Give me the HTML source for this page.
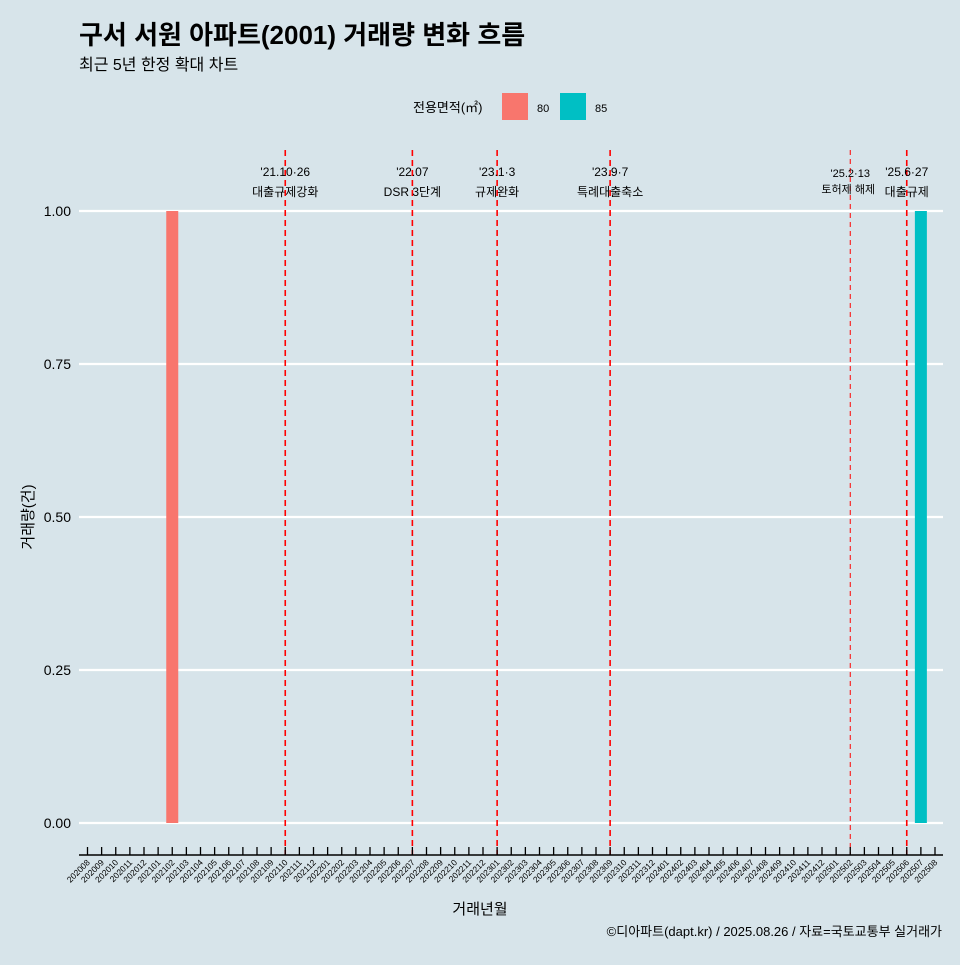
<!DOCTYPE html>
<html><head><meta charset="utf-8"><style>
body{margin:0;background:#d7e4ea;}
svg text{font-family:"Liberation Sans","Noto Sans CJK KR",sans-serif;}
</style></head><body>
<svg width="960" height="960" xmlns="http://www.w3.org/2000/svg">
<rect width="960" height="960" fill="#d7e4ea"/>
<text x="79" y="44" font-size="26" font-weight="bold" fill="#000">구서 서원 아파트(2001) 거래량 변화 흐름</text>
<text x="79" y="70" font-size="16" fill="#000">최근 5년 한정 확대 차트</text>
<g>
<text x="413" y="112" font-size="13">전용면적(㎡)</text>
<rect x="502" y="93" width="26" height="27" fill="#f8766d"/>
<text x="537" y="112" font-size="11">80</text>
<rect x="560" y="93" width="26" height="27" fill="#00bfc4"/>
<text x="595" y="112" font-size="11">85</text>
</g>
<g id="grid"></g><g id="bars"></g><g id="vlines"></g><g id="xaxis"></g><g id="yaxis"></g>
<text x="480" y="914" font-size="15" text-anchor="middle">거래년월</text>
<text transform="translate(33,517) rotate(-90)" font-size="15" text-anchor="middle">거래량(건)</text>
<text x="942" y="936" font-size="13" text-anchor="end">©디아파트(dapt.kr) / 2025.08.26 / 자료=국토교통부 실거래가</text>
</svg>
<script>
const months=[];
for(let y=2020,m=8;!(y===2025&&m===9);){months.push(''+y+(m<10?'0':'')+m);m++;if(m>12){m=1;y++;}}
const seriesAreas=['80','85'];
const seriesMonths=['202102','202507'];
const seriesValues=[1,1];
const yTicks=[0,0.25,0.5,0.75,1];
const yTickLabels=['0.00','0.25','0.50','0.75','1.00'];
const eventMonths=['202110','202207','202301','202309','202502','202506'];
const eventDates=["'21.10·26","'22.07","'23.1·3","'23.9·7","'25.2·13","'25.6·27"];
const eventLabels=['대출규제강화','DSR 3단계','규제완화','특례대출축소','토허제 해제','대출규제'];
const colors={'80':'#f8766d','85':'#00bfc4'};
const NS='http://www.w3.org/2000/svg';
function X(mo){return 87.5+months.indexOf(mo)*14.125;}
function Y(v){return 823-v*612;}
function mk(tag,attrs,parent,txt){const e=document.createElementNS(NS,tag);for(const k in attrs)e.setAttribute(k,attrs[k]);if(txt!==undefined)e.textContent=txt;document.getElementById(parent).appendChild(e);return e;}
yTicks.forEach((t,i)=>{
 const l=mk('line',{x1:79,x2:943,y1:Y(t),y2:Y(t),stroke:'#fff','stroke-width':2.2},'grid');
 
 
 const tx=mk('text',{x:71,y:Y(t)+5,'font-size':14,'text-anchor':'end'},'yaxis',yTickLabels[i]);
 
 
});
seriesMonths.forEach((mo,i)=>{
 const b=mk('rect',{x:X(mo)-6,y:Y(seriesValues[i]),width:12,height:Y(0)-Y(seriesValues[i]),fill:colors[seriesAreas[i]]},'bars');
 
 
});
eventMonths.forEach((mo,i)=>{
 const x=X(mo);const small=mo==='202502';
 const l=mk('line',{x1:x,x2:x,y1:150,y2:855,stroke:'#ff0000','stroke-width':small?1:1.6,'stroke-dasharray':small?'5,4':'6,4'},'vlines');
 
 
 const fs=small?11:12;
 const t1=mk('text',{x:x,y:small?177:176,'font-size':fs,'text-anchor':'middle'},'vlines',eventDates[i]);
 
 
 const t2=mk('text',{x:x-(small?2:0),y:small?193:196,'font-size':fs,'text-anchor':'middle'},'vlines',eventLabels[i]);
 
 
});
const ax=mk('line',{x1:79,x2:943,y1:855,y2:855,stroke:'#000','stroke-width':1.5},'xaxis');


months.forEach(mo=>{
 const x=X(mo);
 const tk=mk('line',{x1:x,x2:x,y1:847,y2:855,stroke:'#000','stroke-width':1.3},'xaxis');
 
 
 const t=mk('text',{transform:`translate(${x+3},863) rotate(-45)`,'font-size':8.5,'text-anchor':'end'},'xaxis',mo);
 
 
});
</script>
</body></html>
